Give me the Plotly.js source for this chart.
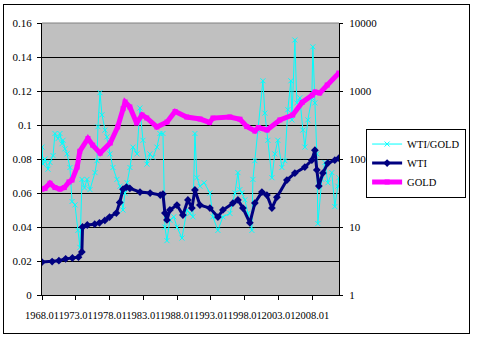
<!DOCTYPE html>
<html>
<head>
<meta charset="utf-8">
<script src="https://cdn.plot.ly/plotly-3.0.1.min.js"></script>
<style>
  html, body { margin: 0; padding: 0; background: #fff; }
  #wrap { position: relative; width: 480px; height: 339px; }
  #chart { position: absolute; left: 0; top: 0; width: 480px; height: 339px; }
  #frame { position: absolute; left: 3px; top: 4px; width: 465px; height: 328px;
           border: 1px solid #000; pointer-events: none; }
</style>
</head>
<body>
<div id="wrap">
  <div id="chart"></div>
  <div id="frame"></div>
</div>
<script>
// ---- data (decimal year, value) ----
const ratioDates = [1968.00,1968.15,1968.44,1968.89,1969.18,1969.63,1969.92,1970.37,1970.66,1970.96,1971.11,1971.40,1971.70,1972.14,1972.44,1972.88,1973.32,1973.62,1973.92,1974.30,1974.66,1975.10,1975.84,1976.13,1976.28,1976.58,1976.87,1977.32,1977.61,1978.06,1978.50,1979.09,1979.54,1979.98,1980.28,1980.60,1981.02,1981.46,1982.05,1982.49,1982.94,1983.53,1983.97,1984.42,1985.01,1985.45,1985.90,1986.19,1986.49,1986.93,1987.50,1987.97,1988.71,1989.45,1989.89,1990.33,1990.63,1990.92,1991.37,1992.00,1992.85,1993.29,1994.03,1994.77,1995.81,1996.55,1996.99,1997.28,1997.58,1998.02,1998.47,1999.06,1999.21,1999.50,1999.95,2000.69,2000.98,2001.43,2002.02,2002.46,2002.90,2003.50,2003.94,2004.38,2004.83,2004.98,2005.42,2005.71,2006.16,2006.60,2006.90,2007.34,2007.93,2008.08,2008.38,2008.67,2008.82,2009.41,2009.86,2010.30,2010.89,2011.33,2011.78,2011.93];
const ratioValues = [0.087,0.077,0.080,0.074,0.078,0.082,0.095,0.092,0.095,0.089,0.091,0.086,0.083,0.075,0.055,0.053,0.038,0.028,0.068,0.063,0.068,0.062,0.072,0.079,0.099,0.119,0.106,0.097,0.093,0.083,0.075,0.068,0.064,0.050,0.060,0.066,0.075,0.087,0.083,0.110,0.091,0.077,0.083,0.081,0.087,0.095,0.095,0.040,0.032,0.044,0.046,0.040,0.0335,0.050,0.048,0.046,0.095,0.069,0.064,0.066,0.060,0.046,0.038,0.046,0.048,0.060,0.072,0.062,0.060,0.056,0.048,0.038,0.068,0.079,0.097,0.126,0.107,0.091,0.069,0.083,0.091,0.075,0.079,0.109,0.126,0.103,0.150,0.113,0.116,0.097,0.087,0.103,0.116,0.146,0.113,0.083,0.042,0.068,0.078,0.066,0.072,0.052,0.064,0.069];

const wtiDates = [1968.00,1969.50,1970.50,1971.50,1972.50,1973.40,1973.90,1974.00,1974.70,1975.80,1976.50,1977.30,1978.00,1979.00,1979.50,1980.00,1980.50,1981.00,1982.50,1984.00,1985.50,1985.90,1986.19,1986.49,1986.93,1987.97,1988.85,1989.59,1990.18,1990.63,1991.37,1992.85,1994.03,1994.77,1996.25,1996.99,1997.73,1998.76,1999.50,2000.54,2001.28,2002.02,2002.76,2004.24,2005.42,2006.90,2007.93,2008.38,2008.67,2008.97,2009.56,2010.30,2011.33,2011.93];
const wtiValues = [3.05,3.1,3.2,3.4,3.5,3.6,4.3,10,10.7,11.0,11.5,12.5,14,16,23,36,38.7,37,32.6,31.5,29.5,30.5,16,12.7,17.8,21,15,25,19,35,21,19,14,17.8,22.5,25,19,11.5,22.5,32.6,29.5,19,27.5,49,62,76,96,135,69,40,62,87,96,103];

const goldDates = [1968.00,1968.44,1969.18,1969.92,1970.66,1971.30,1972.00,1972.44,1973.20,1973.60,1974.80,1975.50,1976.60,1978.10,1979.20,1980.00,1980.30,1981.00,1982.00,1982.80,1983.50,1985.00,1986.50,1987.70,1989.40,1991.40,1992.80,1993.30,1995.80,1997.30,1998.30,1999.50,2000.00,2001.30,2003.20,2005.10,2006.50,2008.00,2008.40,2009.10,2010.20,2011.93];
const goldValues = [36,37,44,38,36,38,46,49,76,130,200,160,122,172,296,550,689,582,338,444,401,296,350,500,415,387,345,400,415,385,300,258,290,267,375,444,680,873,966,935,1225,1840];

const xTickVals = [1968,1973,1978,1983,1988,1993,1998,2003,2008];
const xTickText = ['1968.01','1973.01','1978.01','1983.01','1988.01','1993.01','1998.01','2003.01','2008.01'];
const yTickVals = [0,0.02,0.04,0.06,0.08,0.1,0.12,0.14,0.16];
const yTickText = ['0','0.02','0.04','0.06','0.08','0.1','0.12','0.14','0.16'];
const y2TickVals = [1,10,100,1000,10000];
const y2TickText = ['1','10','100','1000','10000'];
const seriesNames = ['WTI/GOLD','WTI','GOLD'];

const FONT = 'Liberation Serif, Times New Roman, serif';

const traces = [
  {
    x: ratioDates, y: ratioValues, name: seriesNames[0], yaxis: 'y',
    type: 'scatter', mode: 'lines+markers',
    line: {color: '#00ffff', width: 1},
    marker: {symbol: 'x-thin-open', size: 5, color: '#00ffff', line: {color: '#00ffff', width: 1}}
  },
  {
    x: wtiDates, y: wtiValues, name: seriesNames[1], yaxis: 'y2',
    type: 'scatter', mode: 'lines+markers',
    line: {color: '#000080', width: 3},
    marker: {symbol: 'diamond', size: 6, color: '#000080'}
  },
  {
    x: goldDates, y: goldValues, name: seriesNames[2], yaxis: 'y2',
    type: 'scatter', mode: 'lines+markers',
    line: {color: '#ff00ff', width: 5},
    marker: {symbol: 'square', size: 5, color: '#ff00ff'}
  }
];

const layout = {
  width: 480, height: 339,
  margin: {l: 42, r: 141, t: 23, b: 44, pad: 0},
  paper_bgcolor: '#ffffff',
  plot_bgcolor: '#c0c0c0',
  font: {family: FONT, color: '#000', size: 11},
  showlegend: true,
  xaxis: {
    type: 'linear', range: [1968, 2011.95],
    tickmode: 'array', tickvals: xTickVals, ticktext: xTickText, tickangle: 0,
    ticks: 'outside', ticklen: 4, tickcolor: '#000', tickwidth: 1,
    showline: true, linecolor: '#000', linewidth: 1,
    showgrid: false, zeroline: false,
    tickfont: {family: FONT, size: 10.5, color: '#000'},
    ticklabelstandoff: 6
  },
  yaxis: {
    range: [0, 0.16],
    tickmode: 'array', tickvals: yTickVals, ticktext: yTickText,
    ticks: 'outside', ticklen: 4, tickcolor: '#000',
    showline: true, linecolor: '#000', linewidth: 1,
    showgrid: true, gridcolor: '#000', gridwidth: 1,
    zeroline: false,
    tickfont: {family: FONT, size: 11, color: '#000'},
    ticklabelstandoff: 3
  },
  yaxis2: {
    type: 'log', range: [0, 4], overlaying: 'y', side: 'right',
    tickmode: 'array', tickvals: y2TickVals, ticktext: y2TickText,
    ticks: 'outside', ticklen: 3, tickcolor: '#000',
    showline: true, linecolor: '#000', linewidth: 1,
    showgrid: false, zeroline: false,
    tickfont: {family: FONT, size: 11, color: '#000'},
    ticklabelstandoff: 4
  },
  legend: {
    x: 1.428, y: 0.612, xanchor: 'right', yanchor: 'top',
    bgcolor: '#ffffff', bordercolor: '#000', borderwidth: 1,
    font: {family: FONT, size: 10.5, color: '#000'},
    tracegroupgap: 0
  },
  shapes: [
    {type: 'line', xref: 'paper', yref: 'paper', x0: 0, x1: 1, y0: 1, y1: 1,
     line: {color: '#808080', width: 1}}
  ]
};

Plotly.newPlot('chart', traces, layout, {staticPlot: true, displayModeBar: false});
</script>
</body>
</html>
